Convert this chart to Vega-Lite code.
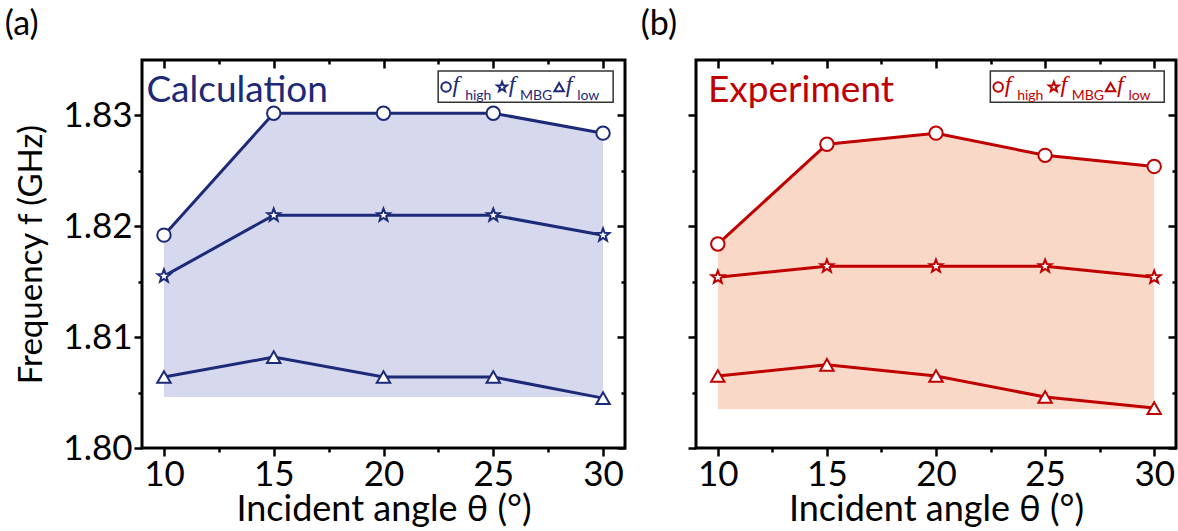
{
  "$schema": "https://vega.github.io/schema/vega-lite/v6.json",
  "padding": {"left": 3, "top": 6, "right": 0, "bottom": 0},
  "background": "white",
  "config": {
    "font": "Lato",
    "view": {"stroke": "black", "strokeWidth": 3},
    "axis": {"labelFont": "Lato", "titleFont": "Lato", "labelFontSize": 35, "titleFontSize": 36, "titleFontWeight": "normal", "labelColor": "black", "titleColor": "black", "tickColor": "black", "tickWidth": 2.5, "domain": false, "grid": false},
    "title": {"font": "Lato", "fontSize": 34, "fontWeight": "normal", "color": "black"}
  },
  "data": {"values": [
    {"panel": "a", "angle": 10, "series": "high", "f": 1.8192},
    {"panel": "a", "angle": 15, "series": "high", "f": 1.8302},
    {"panel": "a", "angle": 20, "series": "high", "f": 1.8302},
    {"panel": "a", "angle": 25, "series": "high", "f": 1.8302},
    {"panel": "a", "angle": 30, "series": "high", "f": 1.8284},
    {"panel": "a", "angle": 10, "series": "MBG", "f": 1.8155},
    {"panel": "a", "angle": 15, "series": "MBG", "f": 1.8210},
    {"panel": "a", "angle": 20, "series": "MBG", "f": 1.8210},
    {"panel": "a", "angle": 25, "series": "MBG", "f": 1.8210},
    {"panel": "a", "angle": 30, "series": "MBG", "f": 1.8192},
    {"panel": "a", "angle": 10, "series": "low", "f": 1.8064},
    {"panel": "a", "angle": 15, "series": "low", "f": 1.8082},
    {"panel": "a", "angle": 20, "series": "low", "f": 1.8064},
    {"panel": "a", "angle": 25, "series": "low", "f": 1.8064},
    {"panel": "a", "angle": 30, "series": "low", "f": 1.8045},
    {"panel": "b", "angle": 10, "series": "high", "f": 1.8184},
    {"panel": "b", "angle": 15, "series": "high", "f": 1.8274},
    {"panel": "b", "angle": 20, "series": "high", "f": 1.8284},
    {"panel": "b", "angle": 25, "series": "high", "f": 1.8264},
    {"panel": "b", "angle": 30, "series": "high", "f": 1.8254},
    {"panel": "b", "angle": 10, "series": "MBG", "f": 1.8154},
    {"panel": "b", "angle": 15, "series": "MBG", "f": 1.8164},
    {"panel": "b", "angle": 20, "series": "MBG", "f": 1.8164},
    {"panel": "b", "angle": 25, "series": "MBG", "f": 1.8164},
    {"panel": "b", "angle": 30, "series": "MBG", "f": 1.8154},
    {"panel": "b", "angle": 10, "series": "low", "f": 1.8065},
    {"panel": "b", "angle": 15, "series": "low", "f": 1.8075},
    {"panel": "b", "angle": 20, "series": "low", "f": 1.8065},
    {"panel": "b", "angle": 25, "series": "low", "f": 1.8046},
    {"panel": "b", "angle": 30, "series": "low", "f": 1.8036}
  ]},
  "hconcat": [
    {
      "width": 483,
      "height": 388,
      "title": {"text": "(a)", "anchor": "start", "frame": "bounds", "offset": 17, "dx": -11},
      "transform": [{"filter": "datum.panel == 'a'"}],
      "layer": [
        {
          "transform": [{"filter": "datum.series == 'high'"}],
          "mark": {"type": "area", "color": "#d6d8ee", "opacity": 1},
          "encoding": {
            "x": {"field": "angle", "type": "quantitative", "scale": {"domain": [9, 31], "nice": false, "zero": false},
              "axis": {"orient": "bottom", "title": "Incident angle θ (°)", "values": [10, 12.5, 15, 17.5, 20, 22.5, 25, 27.5, 30], "labelExpr": "datum.value % 5 == 0 ? datum.label : ''", "tickSize": {"condition": {"test": "datum.value % 5 != 0", "value": 4}, "value": 8}, "labelPadding": 1, "titlePadding": 0}},
            "y": {"field": "f", "type": "quantitative", "scale": {"domain": [1.8, 1.835], "nice": false, "zero": false},
              "axis": {"orient": "left", "title": "Frequency f (GHz)", "titleFontSize": 33, "values": [1.8, 1.805, 1.81, 1.815, 1.82, 1.825, 1.83], "format": ".2f", "labelExpr": "round(datum.value * 1000) % 10 == 0 ? datum.label : ''", "tickSize": {"condition": {"test": "round(datum.value * 1000) % 10 != 0", "value": 4}, "value": 8}, "labelPadding": 2, "titlePadding": 14}},
            "y2": {"datum": 1.8046}
          }
        },
        {
          "mark": {"type": "line", "color": "#1c2a78", "strokeWidth": 3},
          "encoding": {
            "x": {"field": "angle", "type": "quantitative", "axis": {"orient": "top", "title": null, "labels": false, "values": [10, 12.5, 15, 17.5, 20, 22.5, 25, 27.5, 30], "tickSize": {"condition": {"test": "datum.value % 5 != 0", "value": -4}, "value": -8}}},
            "y": {"field": "f", "type": "quantitative", "axis": {"orient": "right", "title": null, "labels": false, "values": [1.8, 1.805, 1.81, 1.815, 1.82, 1.825, 1.83], "tickSize": {"condition": {"test": "round(datum.value * 1000) % 10 != 0", "value": -4}, "value": -8}}},
            "detail": {"field": "series"}
          }
        },
        {
          "mark": {"type": "point", "filled": false, "fill": "white", "fillOpacity": 1, "stroke": "#1c2a78", "strokeWidth": 2, "size": 180, "opacity": 1},
          "encoding": {
            "x": {"field": "angle", "type": "quantitative", "axis": null},
            "y": {"field": "f", "type": "quantitative", "axis": null},
            "shape": {"field": "series", "type": "nominal",
              "scale": {"domain": ["high", "MBG", "low"], "range": ["circle", "M0,-1L0.247,-0.34L0.951,-0.309L0.399,0.13L0.588,0.809L0,0.42L-0.588,0.809L-0.399,0.13L-0.951,-0.309L-0.247,-0.34Z", "triangle-up"]},
              "legend": null}
          }
        },
        {
          "data": {"values": [{"label": "Calculation"}]},
          "mark": {"type": "text", "align": "left", "baseline": "alphabetic", "font": "Lato", "fontSize": 37, "fontWeight": "normal", "color": "#1c2a78"},
          "encoding": {"x": {"datum": 9.2, "axis": null}, "y": {"datum": 1.8312, "axis": null}, "text": {"field": "label"}}
        },
        {
          "data": {"values": [{"item": "box"}]},
          "mark": {"type": "rect", "fill": "white", "stroke": "#333333", "strokeWidth": 1.5},
          "encoding": {"x": {"datum": 22.49, "axis": null}, "x2": {"datum": 30.46}, "y": {"datum": 1.8340, "axis": null}, "y2": {"datum": 1.8312}}
        },
        {
          "data": {"values": [{"item": "high"}]},
          "mark": {"type": "point", "shape": "circle", "filled": false, "fill": "white", "stroke": "#1c2a78", "strokeWidth": 2, "size": 90, "opacity": 1},
          "encoding": {"x": {"datum": 22.85, "axis": null}, "y": {"datum": 1.83256, "axis": null}}
        },
        {
          "data": {"values": [{"item": "MBG"}]},
          "mark": {"type": "point", "shape": "M0,-1L0.247,-0.34L0.951,-0.309L0.399,0.13L0.588,0.809L0,0.42L-0.588,0.809L-0.399,0.13L-0.951,-0.309L-0.247,-0.34Z", "filled": false, "fill": "white", "stroke": "#1c2a78", "strokeWidth": 2, "size": 110, "opacity": 1},
          "encoding": {"x": {"datum": 25.4, "axis": null}, "y": {"datum": 1.83256, "axis": null}}
        },
        {
          "data": {"values": [{"item": "low"}]},
          "mark": {"type": "point", "shape": "triangle-up", "filled": false, "fill": "white", "stroke": "#1c2a78", "strokeWidth": 2, "size": 90, "opacity": 1},
          "encoding": {"x": {"datum": 28.0, "axis": null}, "y": {"datum": 1.83256, "axis": null}}
        },
        {
          "data": {"values": [{"t": "f"}]},
          "mark": {"type": "text", "align": "center", "baseline": "alphabetic", "font": "Liberation Serif", "fontStyle": "italic", "fontSize": 24, "color": "#1c2a78"},
          "encoding": {"x": {"datum": 23.3, "axis": null}, "y": {"datum": 1.83211, "axis": null}, "text": {"field": "t"}}
        },
        {
          "data": {"values": [{"t": "high"}]},
          "mark": {"type": "text", "align": "left", "baseline": "alphabetic", "font": "Lato", "fontSize": 14, "color": "#1c2a78"},
          "encoding": {"x": {"datum": 23.72, "axis": null}, "y": {"datum": 1.83139, "axis": null}, "text": {"field": "t"}}
        },
        {
          "data": {"values": [{"t": "f"}]},
          "mark": {"type": "text", "align": "center", "baseline": "alphabetic", "font": "Liberation Serif", "fontStyle": "italic", "fontSize": 24, "color": "#1c2a78"},
          "encoding": {"x": {"datum": 25.86, "axis": null}, "y": {"datum": 1.83211, "axis": null}, "text": {"field": "t"}}
        },
        {
          "data": {"values": [{"t": "MBG"}]},
          "mark": {"type": "text", "align": "left", "baseline": "alphabetic", "font": "Lato", "fontSize": 14, "color": "#1c2a78"},
          "encoding": {"x": {"datum": 26.22, "axis": null}, "y": {"datum": 1.83139, "axis": null}, "text": {"field": "t"}}
        },
        {
          "data": {"values": [{"t": "f"}]},
          "mark": {"type": "text", "align": "center", "baseline": "alphabetic", "font": "Liberation Serif", "fontStyle": "italic", "fontSize": 24, "color": "#1c2a78"},
          "encoding": {"x": {"datum": 28.45, "axis": null}, "y": {"datum": 1.83211, "axis": null}, "text": {"field": "t"}}
        },
        {
          "data": {"values": [{"t": "low"}]},
          "mark": {"type": "text", "align": "left", "baseline": "alphabetic", "font": "Lato", "fontSize": 14, "color": "#1c2a78"},
          "encoding": {"x": {"datum": 28.82, "axis": null}, "y": {"datum": 1.83139, "axis": null}, "text": {"field": "t"}}
        }
      ],
      "resolve": {"axis": {"x": "independent", "y": "independent"}}
    },
    {
      "width": 480,
      "height": 388,
      "title": {"text": "(b)", "anchor": "start", "frame": "bounds", "offset": 17, "dx": -46},
      "transform": [{"filter": "datum.panel == 'b'"}],
      "layer": [
        {
          "transform": [{"filter": "datum.series == 'high'"}],
          "mark": {"type": "area", "color": "#f9d8c8", "opacity": 1},
          "encoding": {
            "x": {"field": "angle", "type": "quantitative", "scale": {"domain": [9, 31], "nice": false, "zero": false},
              "axis": {"orient": "bottom", "title": "Incident angle θ (°)", "values": [10, 12.5, 15, 17.5, 20, 22.5, 25, 27.5, 30], "labelExpr": "datum.value % 5 == 0 ? datum.label : ''", "tickSize": {"condition": {"test": "datum.value % 5 != 0", "value": 4}, "value": 8}, "labelPadding": 1, "titlePadding": 0}},
            "y": {"field": "f", "type": "quantitative", "scale": {"domain": [1.8, 1.835], "nice": false, "zero": false},
              "axis": {"orient": "left", "title": null, "labels": false, "values": [1.8, 1.805, 1.81, 1.815, 1.82, 1.825, 1.83], "tickSize": {"condition": {"test": "round(datum.value * 1000) % 10 != 0", "value": 4}, "value": 8}}},
            "y2": {"datum": 1.8035}
          }
        },
        {
          "mark": {"type": "line", "color": "#c00000", "strokeWidth": 3},
          "encoding": {
            "x": {"field": "angle", "type": "quantitative", "axis": {"orient": "top", "title": null, "labels": false, "values": [10, 12.5, 15, 17.5, 20, 22.5, 25, 27.5, 30], "tickSize": {"condition": {"test": "datum.value % 5 != 0", "value": -4}, "value": -8}}},
            "y": {"field": "f", "type": "quantitative", "axis": {"orient": "right", "title": null, "labels": false, "values": [1.8, 1.805, 1.81, 1.815, 1.82, 1.825, 1.83], "tickSize": {"condition": {"test": "round(datum.value * 1000) % 10 != 0", "value": -4}, "value": -8}}},
            "detail": {"field": "series"}
          }
        },
        {
          "mark": {"type": "point", "filled": false, "fill": "white", "fillOpacity": 1, "stroke": "#c00000", "strokeWidth": 2, "size": 180, "opacity": 1},
          "encoding": {
            "x": {"field": "angle", "type": "quantitative", "axis": null},
            "y": {"field": "f", "type": "quantitative", "axis": null},
            "shape": {"field": "series", "type": "nominal",
              "scale": {"domain": ["high", "MBG", "low"], "range": ["circle", "M0,-1L0.247,-0.34L0.951,-0.309L0.399,0.13L0.588,0.809L0,0.42L-0.588,0.809L-0.399,0.13L-0.951,-0.309L-0.247,-0.34Z", "triangle-up"]},
              "legend": null}
          }
        },
        {
          "data": {"values": [{"label": "Experiment"}]},
          "mark": {"type": "text", "align": "left", "baseline": "alphabetic", "font": "Lato", "fontSize": 37, "fontWeight": "normal", "color": "#c00000"},
          "encoding": {"x": {"datum": 9.55, "axis": null}, "y": {"datum": 1.8312, "axis": null}, "text": {"field": "label"}}
        },
        {
          "data": {"values": [{"item": "box"}]},
          "mark": {"type": "rect", "fill": "white", "stroke": "#333333", "strokeWidth": 1.5},
          "encoding": {"x": {"datum": 22.49, "axis": null}, "x2": {"datum": 30.46}, "y": {"datum": 1.8340, "axis": null}, "y2": {"datum": 1.8312}}
        },
        {
          "data": {"values": [{"item": "high"}]},
          "mark": {"type": "point", "shape": "circle", "filled": false, "fill": "white", "stroke": "#c00000", "strokeWidth": 2, "size": 90, "opacity": 1},
          "encoding": {"x": {"datum": 22.85, "axis": null}, "y": {"datum": 1.83256, "axis": null}}
        },
        {
          "data": {"values": [{"item": "MBG"}]},
          "mark": {"type": "point", "shape": "M0,-1L0.247,-0.34L0.951,-0.309L0.399,0.13L0.588,0.809L0,0.42L-0.588,0.809L-0.399,0.13L-0.951,-0.309L-0.247,-0.34Z", "filled": false, "fill": "white", "stroke": "#c00000", "strokeWidth": 2, "size": 110, "opacity": 1},
          "encoding": {"x": {"datum": 25.4, "axis": null}, "y": {"datum": 1.83256, "axis": null}}
        },
        {
          "data": {"values": [{"item": "low"}]},
          "mark": {"type": "point", "shape": "triangle-up", "filled": false, "fill": "white", "stroke": "#c00000", "strokeWidth": 2, "size": 90, "opacity": 1},
          "encoding": {"x": {"datum": 28.0, "axis": null}, "y": {"datum": 1.83256, "axis": null}}
        },
        {
          "data": {"values": [{"t": "f"}]},
          "mark": {"type": "text", "align": "center", "baseline": "alphabetic", "font": "Liberation Serif", "fontStyle": "italic", "fontSize": 24, "color": "#c00000"},
          "encoding": {"x": {"datum": 23.3, "axis": null}, "y": {"datum": 1.83211, "axis": null}, "text": {"field": "t"}}
        },
        {
          "data": {"values": [{"t": "high"}]},
          "mark": {"type": "text", "align": "left", "baseline": "alphabetic", "font": "Lato", "fontSize": 14, "color": "#c00000"},
          "encoding": {"x": {"datum": 23.72, "axis": null}, "y": {"datum": 1.83139, "axis": null}, "text": {"field": "t"}}
        },
        {
          "data": {"values": [{"t": "f"}]},
          "mark": {"type": "text", "align": "center", "baseline": "alphabetic", "font": "Liberation Serif", "fontStyle": "italic", "fontSize": 24, "color": "#c00000"},
          "encoding": {"x": {"datum": 25.86, "axis": null}, "y": {"datum": 1.83211, "axis": null}, "text": {"field": "t"}}
        },
        {
          "data": {"values": [{"t": "MBG"}]},
          "mark": {"type": "text", "align": "left", "baseline": "alphabetic", "font": "Lato", "fontSize": 14, "color": "#c00000"},
          "encoding": {"x": {"datum": 26.22, "axis": null}, "y": {"datum": 1.83139, "axis": null}, "text": {"field": "t"}}
        },
        {
          "data": {"values": [{"t": "f"}]},
          "mark": {"type": "text", "align": "center", "baseline": "alphabetic", "font": "Liberation Serif", "fontStyle": "italic", "fontSize": 24, "color": "#c00000"},
          "encoding": {"x": {"datum": 28.45, "axis": null}, "y": {"datum": 1.83211, "axis": null}, "text": {"field": "t"}}
        },
        {
          "data": {"values": [{"t": "low"}]},
          "mark": {"type": "text", "align": "left", "baseline": "alphabetic", "font": "Lato", "fontSize": 14, "color": "#c00000"},
          "encoding": {"x": {"datum": 28.82, "axis": null}, "y": {"datum": 1.83139, "axis": null}, "text": {"field": "t"}}
        }
      ],
      "resolve": {"axis": {"x": "independent", "y": "independent"}}
    }
  ],
  "spacing": 11,
  "resolve": {"scale": {"shape": "independent"}}
}
